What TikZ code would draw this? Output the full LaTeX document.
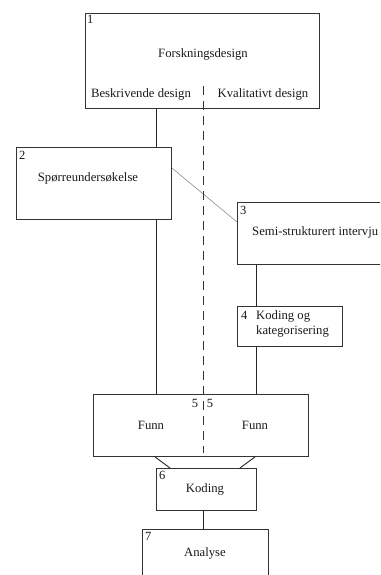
\documentclass[tikz,border=0pt]{standalone}
\usepackage{fontspec}
\setmainfont{Liberation Serif}
\usetikzlibrary{calc}
\tikzset{
  box/.style={draw=black!80, line width=0.9pt, rectangle, inner sep=0pt, anchor=north west},
  lbl/.style={font=\fontsize{12.7}{15}\selectfont, inner sep=0pt, text=black!90},
  num/.style={font=\fontsize{12.5}{14}\selectfont, inner sep=0pt, anchor=north west, text=black!90},
  conn/.style={draw=black!85, line width=0.9pt},
  thin/.style={draw=black!45, line width=0.6pt},
  divider/.style={draw=black!80, line width=0.9pt, dash pattern=on 9pt off 6pt}
}
\begin{document}
\begin{tikzpicture}[x=1pt,y=-1pt]
\useasboundingbox (0,0) rectangle (380,575);
\clip (0,0) rectangle (380,575);
% boxes
\node[box, minimum width=234pt, minimum height=95pt] (b1) at (85,13) {};
\node[box, minimum width=155pt, minimum height=72pt] (b2) at (16,147) {};
\node[box, minimum width=150pt, minimum height=62pt] (b3) at (237,202) {};
\node[box, minimum width=105pt, minimum height=40pt] (b4) at (237,306) {};
\node[box, minimum width=215pt, minimum height=62pt] (b5) at (93,394) {};
\node[box, minimum width=100pt, minimum height=42pt] (b6) at (156,468) {};
\node[box, minimum width=126pt, minimum height=70pt] (b7) at (142,529) {};
% guide coordinates
\coordinate (L) at (156,0);
\coordinate (R) at (256,0);
\coordinate (D) at (203,0);
\coordinate (d1) at (203,86);
\coordinate (d2) at (203,453);
% texts
\node[num] (n1) at (87,15) {1};
\node[lbl] (t1) at (203,54) {Forskningsdesign};
\node[lbl] (t1a) at (141,94) {Beskrivende design};
\node[lbl] (t1b) at (263,94) {Kvalitativt design};
\node[num] (n2) at (19,151) {2};
\node[lbl] (t2) at (88,178) {Spørreundersøkelse};
\node[num] (n3) at (240,206) {3};
\node[lbl, anchor=west] (t3) at (252,232) {Semi-strukturert intervju};
\node[num] (n4) at (241,311) {4};
\node[lbl, anchor=north west, align=left] (t4) at (256,310) {Koding og\\kategorisering};
\node[num, anchor=center] (n5a) at (195,403) {5};
\node[num, anchor=center] (n5b) at (210,403) {5};
\node[lbl] (t5a) at (151,425) {Funn};
\node[lbl] (t5b) at (255,425) {Funn};
\node[num] (n6) at (159,471) {6};
\node[lbl] (t6) at (205,489) {Koding};
\node[num] (n7) at (145,532) {7};
\node[lbl] (t7) at (205,553) {Analyse};
% connectors
\draw[conn] (b1.south -| L) -- (b2.north -| L);
\draw[conn] (b2.south -| L) -- (b5.north -| L);
\draw[thin] ($(b2.north east)+(0,21)$) -- ($(b3.north west)+(0,20)$);
\draw[conn] (b3.south -| R) -- (b4.north -| R);
\draw[conn] (b4.south -| R) -- (b5.north -| R);
\draw[conn] ($(b5.south west)+(62,0)$) -- ($(b6.north west)+(14,0)$);
\draw[conn] ($(b5.south west)+(162,0)$) -- ($(b6.north west)+(84,0)$);
\draw[conn] (b6.south -| D) -- (b7.north -| D);
\draw[divider] (d1) -- (d2);
\end{tikzpicture}
\end{document}
